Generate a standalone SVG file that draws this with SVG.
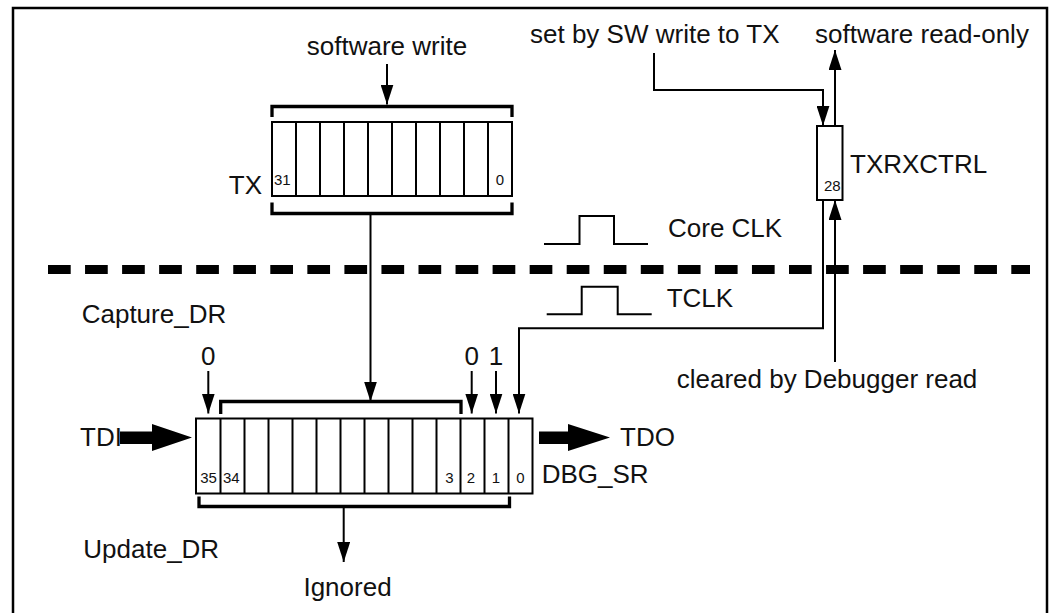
<svg xmlns="http://www.w3.org/2000/svg" width="1061" height="613" viewBox="0 0 1061 613">
<style>
text{font-family:"Liberation Sans",Arial,sans-serif;font-size:26px;fill:#111}
.s{font-size:15px}
.box{fill:#fff;stroke:#000;stroke-width:2}
.cell{stroke:#000;stroke-width:2}
.br{fill:none;stroke:#000;stroke-width:3.3}
.c{fill:none;stroke:#000;stroke-width:2}
.clk{fill:none;stroke:#000;stroke-width:2}
</style>
<defs>
<marker id="arr" viewBox="0 0 20 13" markerWidth="20" markerHeight="13" refX="20" refY="6.5" orient="auto" markerUnits="userSpaceOnUse">
<path d="M0,0 L20,6.5 L0,13 z" fill="#000"/>
</marker>
</defs>
<rect x="13" y="8" width="1034" height="640" fill="none" stroke="#000" stroke-width="2.5"/>
<line x1="48" y1="269.5" x2="1030" y2="269.5" stroke="#000" stroke-width="9" stroke-dasharray="22.7 14.35"/>
<g id="connectors">
<line class="c" x1="387" y1="64" x2="387" y2="104.5" marker-end="url(#arr)"/>
<line class="c" x1="370.5" y1="213.5" x2="370.5" y2="401.5" marker-end="url(#arr)"/>
<line class="c" x1="208.3" y1="371" x2="208.3" y2="413.5" marker-end="url(#arr)"/>
<line class="c" x1="471.7" y1="371" x2="471.7" y2="413.5" marker-end="url(#arr)"/>
<line class="c" x1="496" y1="371" x2="496" y2="413.5" marker-end="url(#arr)"/>
<path class="c" d="M823,200 V328.3 H519 V413.5" marker-end="url(#arr)"/>
<path class="c" d="M654,53 V90 H823 V125.7" marker-end="url(#arr)"/>
<line class="c" x1="835" y1="125.7" x2="835" y2="50" marker-end="url(#arr)"/>
<line class="c" x1="835" y1="362" x2="835" y2="200" marker-end="url(#arr)"/>
<line class="c" x1="343.7" y1="507" x2="343.7" y2="562" marker-end="url(#arr)"/>
<path d="M120,431.5 H152 V424 L192,437.5 L152,451 V444 H120 z" fill="#000"/>
<path d="M539,431.5 H568 V424 L610,437.5 L568,451 V444 H539 z" fill="#000"/>
</g>
<g id="tx">
<path class="br" d="M272,117 V106.5 H512 V117"/>
<rect class="box" x="272" y="122" width="240" height="74"/>
<path class="cell" d="M296,122V196M320,122V196M344,122V196M368,122V196M392,122V196M416,122V196M440,122V196M464,122V196M488,122V196"/>
<path class="br" d="M272,202.5 V213.5 H512 V202.5"/>
<text class="s" x="274" y="185">31</text>
<text class="s" x="500" y="185" text-anchor="middle">0</text>
<text x="262" y="194" text-anchor="end">TX</text>
</g>
<g id="txrxctrl">
<rect class="box" x="817" y="126" width="25.5" height="74"/>
<text class="s" x="824" y="191">28</text>
<text x="850" y="173">TXRXCTRL</text>
</g>
<g id="dbg_sr">
<path class="br" d="M220.7,414 V401.5 H461 V414"/>
<rect class="box" x="196" y="418.5" width="336.5" height="75"/>
<path class="cell" d="M220.5,418.5V493.5M244.5,418.5V493.5M268.5,418.5V493.5M292.5,418.5V493.5M316.5,418.5V493.5M340.5,418.5V493.5M364.5,418.5V493.5M388.5,418.5V493.5M412.5,418.5V493.5M436.5,418.5V493.5M460.5,418.5V493.5M484.5,418.5V493.5M508.5,418.5V493.5"/>
<path class="br" d="M199,496.5 V506.5 H509.5 V496.5"/>
<text class="s" x="208.5" y="483" text-anchor="middle">35</text>
<text class="s" x="223" y="483">34</text>
<text class="s" x="449.5" y="483" text-anchor="middle">3</text>
<text class="s" x="471" y="483" text-anchor="middle">2</text>
<text class="s" x="496" y="483" text-anchor="middle">1</text>
<text class="s" x="520.5" y="483" text-anchor="middle">0</text>
<text x="541.7" y="483">DBG_SR</text>
</g>
<g id="clocks">
<polyline class="clk" points="544,244 579.5,244 579.5,216 614,216 614,244 648,244"/>
<polyline class="clk" points="546.7,314.3 581.7,314.3 581.7,286.7 617.7,286.7 617.7,314.3 651.7,314.3"/>
<text x="668" y="237">Core CLK</text>
<text x="666.7" y="306.7">TCLK</text>
</g>
<g id="labels">
<text x="387" y="55" text-anchor="middle">software write</text>
<text x="530" y="43">set by SW write to TX</text>
<text x="815" y="43">software read-only</text>
<text x="81.7" y="323.3">Capture_DR</text>
<text x="208.3" y="365" text-anchor="middle">0</text>
<text x="471.7" y="365" text-anchor="middle">0</text>
<text x="496" y="365" text-anchor="middle">1</text>
<text x="676.7" y="388">cleared by Debugger read</text>
<text x="80" y="446">TDI</text>
<text x="620" y="446">TDO</text>
<text x="83.3" y="558.3">Update_DR</text>
<text x="347.5" y="596" text-anchor="middle">Ignored</text>
</g>
</svg>
